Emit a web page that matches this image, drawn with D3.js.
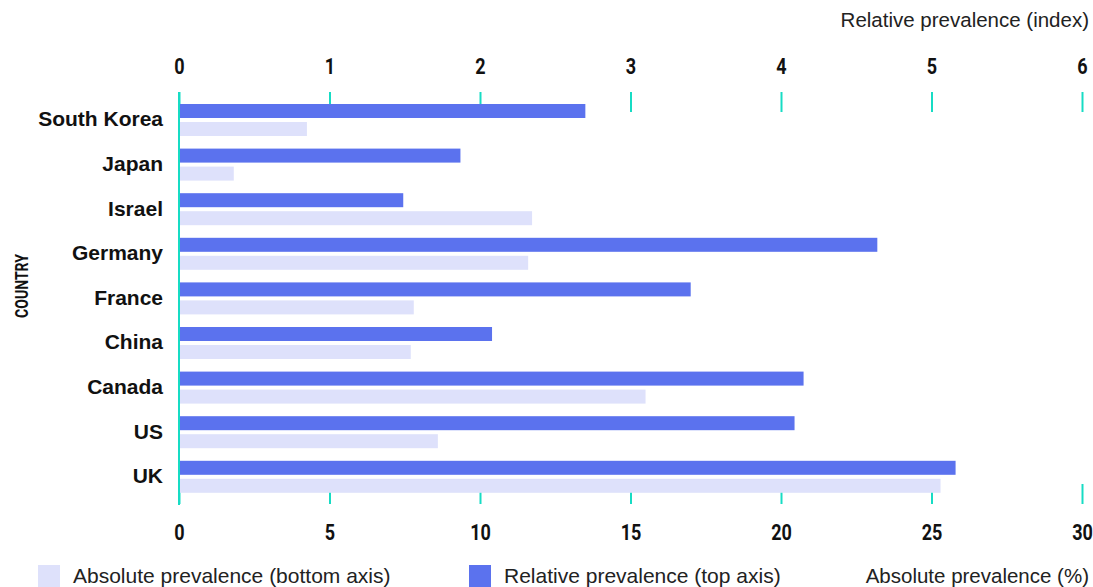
<!DOCTYPE html>
<html>
<head>
<meta charset="utf-8">
<script src="https://cdn.jsdelivr.net/npm/d3@7"></script>
<style>
  html, body { margin: 0; padding: 0; background: #fff; }
  svg { display: block; }
  .cond { font-family: "Roboto", "Liberation Sans", sans-serif; font-weight: bold; }
  .sans { font-family: "Liberation Sans", Arial, Helvetica, sans-serif; }
</style>
</head>
<body>
<svg id="chart" width="1093" height="587"></svg>
<script>
// Countries, top to bottom
const countries = ["South Korea", "Japan", "Israel", "Germany", "France", "China", "Canada", "US", "UK"];
// Relative prevalence (index) — top axis
const relativeIndex = [2.70, 1.87, 1.49, 4.64, 3.40, 2.08, 4.15, 4.09, 5.16];
// Absolute prevalence (%) — bottom axis
const absolutePct = [4.25, 1.82, 11.73, 11.6, 7.8, 7.7, 15.5, 8.6, 25.3];
// Tick labels
const topTicks = [0, 1, 2, 3, 4, 5, 6];
const bottomTicks = [0, 5, 10, 15, 20, 25, 30];

const TEAL = "#17dcc4";
const REL = "#5b72ee";
const ABS = "#dee1fb";
const NARROW = "scale(0.82,1)"; // condensed look for the numeric labels

const svg = d3.select("#chart");
const x0 = 179, x1 = 1082;

const xTop = d3.scaleLinear().domain([0, 6]).range([x0, x1]);
const xBottom = d3.scaleLinear().domain([0, 30]).range([x0, x1]);

const y = d3.scaleBand().domain(countries).range([104, 492.8])
  .paddingInner(12.6 / 44.6).paddingOuter(0);
const ySub = d3.scaleBand().domain(["rel", "abs"]).range([0, y.bandwidth()])
  .paddingInner(4 / 18);

// Top axis (index)
const topAxis = svg.append("g").attr("transform", "translate(0,112)")
  .call(d3.axisTop(xTop).tickValues(topTicks).tickSize(20).tickPadding(18).tickFormat(d3.format("d")));
topAxis.select(".domain").remove();
topAxis.selectAll(".tick line").attr("stroke", TEAL).attr("stroke-width", 2);
topAxis.selectAll(".tick text").attr("class", "cond").attr("font-size", 22)
  .attr("fill", "#111").attr("transform", NARROW);

// Bottom axis (%)
const bottomAxis = svg.append("g").attr("transform", "translate(0,484)")
  .call(d3.axisBottom(xBottom).tickValues(bottomTicks).tickSize(20).tickPadding(20).tickFormat(d3.format("d")));
bottomAxis.select(".domain").remove();
bottomAxis.selectAll(".tick line").attr("stroke", TEAL).attr("stroke-width", 2);
bottomAxis.selectAll(".tick text").attr("class", "cond").attr("font-size", 22)
  .attr("fill", "#111").attr("transform", NARROW);

// Bars
const rows = svg.append("g").selectAll("g").data(countries).join("g")
  .attr("transform", d => `translate(0,${y(d)})`);

rows.append("rect")
  .attr("x", xTop(0))
  .attr("y", ySub("rel"))
  .attr("height", ySub.bandwidth())
  .attr("width", (d, i) => xTop(relativeIndex[i]) - xTop(0))
  .attr("fill", REL);

rows.append("rect")
  .attr("x", xBottom(0))
  .attr("y", ySub("abs"))
  .attr("height", ySub.bandwidth())
  .attr("width", (d, i) => xBottom(absolutePct[i]) - xBottom(0))
  .attr("fill", ABS);

// Vertical baseline
svg.append("line").attr("x1", x0).attr("x2", x0).attr("y1", 92).attr("y2", 505)
  .attr("stroke", TEAL).attr("stroke-width", 2);

// Country labels
const yAxis = svg.append("g").attr("transform", `translate(${x0},0)`)
  .call(d3.axisLeft(y).tickSize(0).tickPadding(16));
yAxis.select(".domain").remove();
yAxis.selectAll(".tick text").attr("class", "sans").attr("font-size", 21)
  .attr("font-weight", "bold").attr("fill", "#111").attr("dy", "0.3em");

// Axis title (rotated)
svg.append("text").attr("class", "cond").attr("font-size", 19).attr("fill", "#111")
  .attr("text-anchor", "middle")
  .attr("transform", "translate(28,286) rotate(-90) scale(0.74,1)")
  .text("COUNTRY");

// Axis unit captions
svg.append("text").attr("class", "sans").attr("font-size", 20.5).attr("fill", "#222")
  .attr("text-anchor", "end").attr("x", 1089).attr("y", 27)
  .text("Relative prevalence (index)");
svg.append("text").attr("class", "sans").attr("font-size", 20.5).attr("fill", "#222")
  .attr("text-anchor", "end").attr("x", 1089).attr("y", 583)
  .text("Absolute prevalence (%)");

// Legend
const legend = [
  { label: "Absolute prevalence (bottom axis)", color: ABS, x: 38 },
  { label: "Relative prevalence (top axis)", color: REL, x: 469 }
];
const lg = svg.append("g").selectAll("g").data(legend).join("g")
  .attr("transform", d => `translate(${d.x},565)`);
lg.append("rect").attr("width", 22).attr("height", 22).attr("fill", d => d.color);
lg.append("text").attr("class", "sans").attr("font-size", 21).attr("fill", "#222")
  .attr("x", 35).attr("y", 18).text(d => d.label);
</script>
</body>
</html>
